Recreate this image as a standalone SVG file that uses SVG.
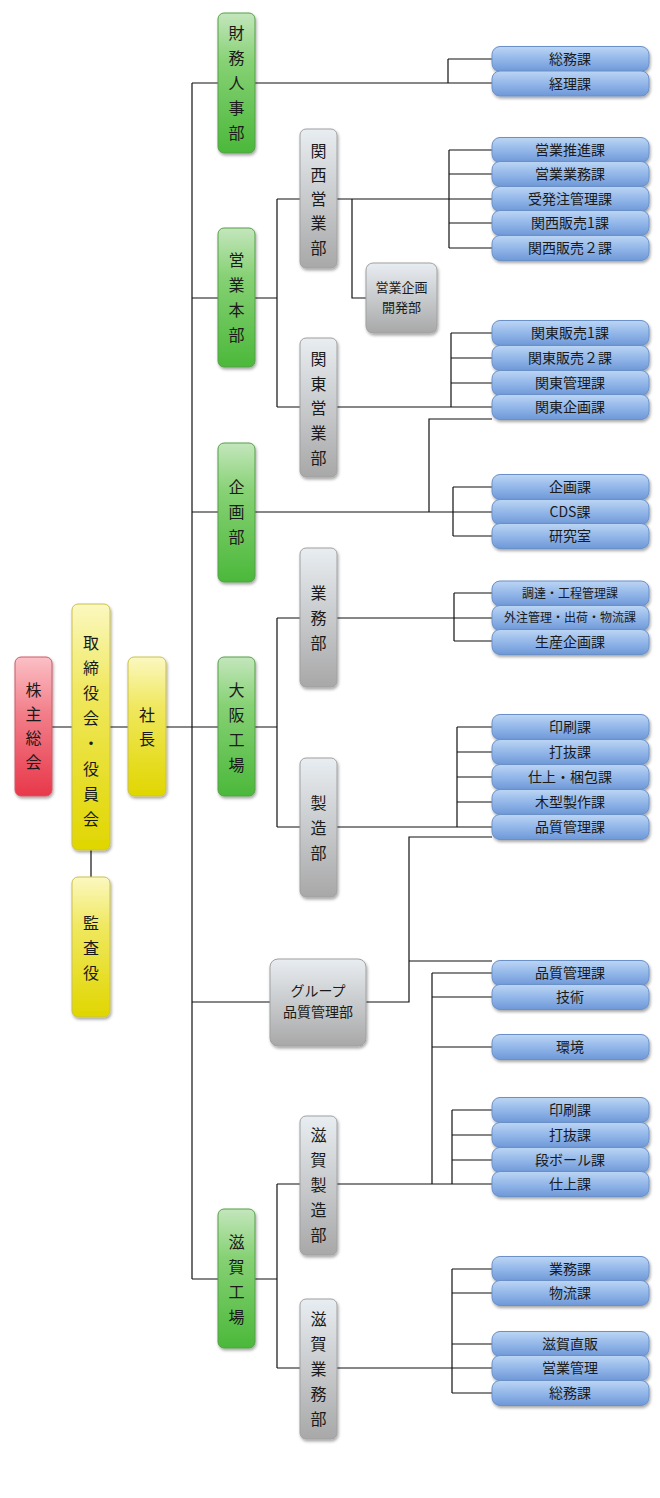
<svg xmlns="http://www.w3.org/2000/svg" width="660" height="1498" viewBox="0 0 660 1498">
<defs>
<linearGradient id="gGreen" x1="0" y1="0" x2="0" y2="1"><stop offset="0" stop-color="#c4e6bd"/><stop offset="0.35" stop-color="#86d174"/><stop offset="1" stop-color="#4bb83a"/></linearGradient>
<linearGradient id="gGray" x1="0" y1="0" x2="0" y2="1"><stop offset="0" stop-color="#e8edf1"/><stop offset="1" stop-color="#a8a8a8"/></linearGradient>
<linearGradient id="gYellow" x1="0" y1="0" x2="0" y2="1"><stop offset="0" stop-color="#fbf8c0"/><stop offset="0.35" stop-color="#f0e860"/><stop offset="1" stop-color="#e0d600"/></linearGradient>
<linearGradient id="gRed" x1="0" y1="0" x2="0" y2="1"><stop offset="0" stop-color="#fbc0c6"/><stop offset="0.4" stop-color="#f27f8a"/><stop offset="1" stop-color="#e8384a"/></linearGradient>
<linearGradient id="gBlue" x1="0" y1="0" x2="0" y2="1"><stop offset="0" stop-color="#bcd5f4"/><stop offset="0.5" stop-color="#93b7e9"/><stop offset="1" stop-color="#6e98d7"/></linearGradient>
<filter id="sh" x="-20%" y="-20%" width="140%" height="140%"><feDropShadow dx="1" dy="2" stdDeviation="1.5" flood-color="#000" flood-opacity="0.35"/></filter>
<style>
.green{fill:url(#gGreen);stroke:#55a048;stroke-width:1;filter:url(#sh)}
.gray{fill:url(#gGray);stroke:#a0a0a0;stroke-width:1;filter:url(#sh)}
.yellow{fill:url(#gYellow);stroke:#c9c050;stroke-width:1;filter:url(#sh)}
.red{fill:url(#gRed);stroke:#cc5a66;stroke-width:1;filter:url(#sh)}
.blue{fill:url(#gBlue);stroke:#6a90c8;stroke-width:1;filter:url(#sh)}
text{font-family:"Noto Sans CJK JP","Noto Sans CJK SC",sans-serif;fill:#1a1a1a;text-anchor:middle}
.v{font-size:16px}
.b{font-size:14px}
.s{font-size:12px}
.conn path{fill:none;stroke:#111;stroke-width:1.2}
</style>
</defs>
<rect width="660" height="1498" fill="#fff"/>

<g class="conn">
<path d="M52,727H72M110,727H218M91,850V877"/>
<path d="M192,83V1279M192,83H218M192,298H218M192,512H218M192,1002H270M192,1279H218"/>
<path d="M255,83H492M448,59V83M448,59H492"/>
<path d="M255,298H277M277,199V407M277,199H300M277,407H300"/>
<path d="M337,199H492M352,199V298H366M449,150V248M449,150H492M449,174H492M449,223H492M449,248H492"/>
<path d="M337,407H492M451,333V407M451,333H492M451,358H492M451,383H492"/>
<path d="M255,512H492M429,512V419H492M453,487V536M453,487H492M453,536H492"/>
<path d="M255,727H277M277,618V827M277,618H300M277,827H300"/>
<path d="M337,618H492M454,593V641M454,593H492M454,641H492"/>
<path d="M337,827H492M457,727V827M457,727H492M457,752H492M457,777H492M457,802H492"/>
<path d="M366,1002H409V837H492M409,961H492"/>
<path d="M432,973V1184M432,973H492M432,997H492M432,1047H492"/>
<path d="M255,1279H277M277,1184V1368M277,1184H300M277,1368H300"/>
<path d="M337,1184H492M452,1110V1184M452,1110H492M452,1135H492M452,1160H492"/>
<path d="M337,1368H492M452,1269V1393M452,1269H492M452,1293H492M452,1344H492M452,1393H492"/>
</g>

<g id="kabunushi"><rect class="red" x="15" y="657" width="37" height="139" rx="6"/>
<text class="v" x="33.5"><tspan x="33.5" y="696">株</tspan><tspan x="33.5" y="720">主</tspan><tspan x="33.5" y="744">総</tspan><tspan x="33.5" y="768">会</tspan></text></g>
<g id="torishimariyaku"><rect class="yellow" x="72" y="604" width="38" height="246" rx="6"/>
<text class="v"><tspan x="91" y="649">取</tspan><tspan x="91" y="674">締</tspan><tspan x="91" y="699">役</tspan><tspan x="91" y="724">会</tspan><tspan x="91" y="749">・</tspan><tspan x="91" y="775">役</tspan><tspan x="91" y="800">員</tspan><tspan x="91" y="825">会</tspan></text></g>
<g id="shacho"><rect class="yellow" x="128" y="657" width="38" height="139" rx="6"/>
<text class="v"><tspan x="147" y="721">社</tspan><tspan x="147" y="745">長</tspan></text></g>
<g id="kansayaku"><rect class="yellow" x="72" y="877" width="38" height="140" rx="6"/>
<text class="v"><tspan x="91" y="929">監</tspan><tspan x="91" y="954">査</tspan><tspan x="91" y="979">役</tspan></text></g>

<g id="zaimu"><rect class="green" x="218" y="13" width="37" height="140" rx="6"/>
<text class="v"><tspan x="236.5" y="39">財</tspan><tspan x="236.5" y="64">務</tspan><tspan x="236.5" y="89">人</tspan><tspan x="236.5" y="114">事</tspan><tspan x="236.5" y="139">部</tspan></text></g>
<g id="eigyohonbu"><rect class="green" x="218" y="228" width="37" height="139" rx="6"/>
<text class="v"><tspan x="236.5" y="266">営</tspan><tspan x="236.5" y="291">業</tspan><tspan x="236.5" y="316">本</tspan><tspan x="236.5" y="341">部</tspan></text></g>
<g id="kikakubu"><rect class="green" x="218" y="443" width="37" height="139" rx="6"/>
<text class="v"><tspan x="236.5" y="493">企</tspan><tspan x="236.5" y="518">画</tspan><tspan x="236.5" y="543">部</tspan></text></g>
<g id="osaka"><rect class="green" x="218" y="657" width="37" height="139" rx="6"/>
<text class="v"><tspan x="236.5" y="696">大</tspan><tspan x="236.5" y="721">阪</tspan><tspan x="236.5" y="746">工</tspan><tspan x="236.5" y="771">場</tspan></text></g>
<g id="shiga"><rect class="green" x="218" y="1209" width="37" height="139" rx="6"/>
<text class="v"><tspan x="236.5" y="1248">滋</tspan><tspan x="236.5" y="1273">賀</tspan><tspan x="236.5" y="1298">工</tspan><tspan x="236.5" y="1323">場</tspan></text></g>

<g id="kansai"><rect class="gray" x="300" y="129" width="37" height="139" rx="6"/>
<text class="v"><tspan x="318.5" y="157">関</tspan><tspan x="318.5" y="181">西</tspan><tspan x="318.5" y="205">営</tspan><tspan x="318.5" y="229">業</tspan><tspan x="318.5" y="254">部</tspan></text></g>
<g id="kikakukaihatsu"><rect class="gray" x="366" y="263" width="71" height="70" rx="7"/>
<text class="s" x="401.5" y="292" style="font-size:13px">営業企画</text><text class="s" x="401.5" y="312" style="font-size:13px">開発部</text></g>
<g id="kanto"><rect class="gray" x="300" y="338" width="37" height="139" rx="6"/>
<text class="v"><tspan x="318.5" y="365">関</tspan><tspan x="318.5" y="390">東</tspan><tspan x="318.5" y="414">営</tspan><tspan x="318.5" y="439">業</tspan><tspan x="318.5" y="464">部</tspan></text></g>
<g id="gyomubu"><rect class="gray" x="300" y="548" width="37" height="139" rx="6"/>
<text class="v"><tspan x="318.5" y="599">業</tspan><tspan x="318.5" y="624">務</tspan><tspan x="318.5" y="649">部</tspan></text></g>
<g id="seizobu"><rect class="gray" x="300" y="758" width="37" height="139" rx="6"/>
<text class="v"><tspan x="318.5" y="809">製</tspan><tspan x="318.5" y="834">造</tspan><tspan x="318.5" y="859">部</tspan></text></g>
<g id="group"><rect class="gray" x="270" y="959" width="96" height="87" rx="8"/>
<text class="b" x="318" y="996" style="font-size:14px">グループ</text><text class="b" x="318" y="1017" style="font-size:14px">品質管理部</text></g>
<g id="shigaseizo"><rect class="gray" x="300" y="1116" width="37" height="139" rx="6"/>
<text class="v"><tspan x="318.5" y="1141">滋</tspan><tspan x="318.5" y="1166">賀</tspan><tspan x="318.5" y="1191">製</tspan><tspan x="318.5" y="1216">造</tspan><tspan x="318.5" y="1241">部</tspan></text></g>
<g id="shigagyomu"><rect class="gray" x="300" y="1299" width="37" height="140" rx="6"/>
<text class="v"><tspan x="318.5" y="1325">滋</tspan><tspan x="318.5" y="1350">賀</tspan><tspan x="318.5" y="1375">業</tspan><tspan x="318.5" y="1400">務</tspan><tspan x="318.5" y="1425">部</tspan></text></g>

<g id="b-somu"><rect class="blue" x="492" y="46.5" width="157" height="25" rx="8"/><text class="b" x="570" y="64">総務課</text></g>
<g id="b-keiri"><rect class="blue" x="492" y="71" width="157" height="25" rx="8"/><text class="b" x="570" y="88.5">経理課</text></g>

<g id="b-suishin"><rect class="blue" x="492" y="137.5" width="157" height="25" rx="8"/><text class="b" x="570" y="155">営業推進課</text></g>
<g id="b-eigyogyomu"><rect class="blue" x="492" y="161.5" width="157" height="25" rx="8"/><text class="b" x="570" y="179">営業業務課</text></g>
<g id="b-juhatchu"><rect class="blue" x="492" y="186.5" width="157" height="25" rx="8"/><text class="b" x="570" y="204">受発注管理課</text></g>
<g id="b-kansai1"><rect class="blue" x="492" y="210.5" width="157" height="25" rx="8"/><text class="b" x="570" y="228">関西販売1課</text></g>
<g id="b-kansai2"><rect class="blue" x="492" y="235.5" width="157" height="25" rx="8"/><text class="b" x="570" y="253">関西販売２課</text></g>

<g id="b-kanto1"><rect class="blue" x="492" y="320.5" width="157" height="25" rx="8"/><text class="b" x="570" y="338">関東販売1課</text></g>
<g id="b-kanto2"><rect class="blue" x="492" y="345.5" width="157" height="25" rx="8"/><text class="b" x="570" y="363">関東販売２課</text></g>
<g id="b-kantokanri"><rect class="blue" x="492" y="370.5" width="157" height="25" rx="8"/><text class="b" x="570" y="388">関東管理課</text></g>
<g id="b-kantokikaku"><rect class="blue" x="492" y="394.5" width="157" height="25" rx="8"/><text class="b" x="570" y="412">関東企画課</text></g>

<g id="b-kikaku"><rect class="blue" x="492" y="474.5" width="157" height="25" rx="8"/><text class="b" x="570" y="492">企画課</text></g>
<g id="b-cds"><rect class="blue" x="492" y="499.5" width="157" height="25" rx="8"/><text class="b" x="570" y="517">CDS課</text></g>
<g id="b-kenkyu"><rect class="blue" x="492" y="523.5" width="157" height="25" rx="8"/><text class="b" x="570" y="541">研究室</text></g>

<g id="b-chotatsu"><rect class="blue" x="492" y="581" width="157" height="25" rx="8"/><text class="s" x="570" y="597.5">調達・工程管理課</text></g>
<g id="b-gaichu"><rect class="blue" x="492" y="605.5" width="157" height="25" rx="8"/><text class="s" x="570" y="622">外注管理・出荷・物流課</text></g>
<g id="b-seisan"><rect class="blue" x="492" y="629.5" width="157" height="25" rx="8"/><text class="b" x="570" y="647">生産企画課</text></g>

<g id="b-insatsu"><rect class="blue" x="492" y="714.5" width="157" height="25" rx="8"/><text class="b" x="570" y="732">印刷課</text></g>
<g id="b-uchinuki"><rect class="blue" x="492" y="739.5" width="157" height="25" rx="8"/><text class="b" x="570" y="757">打抜課</text></g>
<g id="b-shiage"><rect class="blue" x="492" y="764.5" width="157" height="25" rx="8"/><text class="b" x="570" y="782">仕上・梱包課</text></g>
<g id="b-kigata"><rect class="blue" x="492" y="789.5" width="157" height="25" rx="8"/><text class="b" x="570" y="807">木型製作課</text></g>
<g id="b-hinshitsu1"><rect class="blue" x="492" y="814.5" width="157" height="25" rx="8"/><text class="b" x="570" y="832">品質管理課</text></g>

<g id="b-hinshitsu2"><rect class="blue" x="492" y="960.5" width="157" height="25" rx="8"/><text class="b" x="570" y="978">品質管理課</text></g>
<g id="b-gijutsu"><rect class="blue" x="492" y="984.5" width="157" height="25" rx="8"/><text class="b" x="570" y="1002">技術</text></g>
<g id="b-kankyo"><rect class="blue" x="492" y="1034.5" width="157" height="25" rx="8"/><text class="b" x="570" y="1052">環境</text></g>

<g id="b-insatsu2"><rect class="blue" x="492" y="1097.5" width="157" height="25" rx="8"/><text class="b" x="570" y="1115">印刷課</text></g>
<g id="b-uchinuki2"><rect class="blue" x="492" y="1122.5" width="157" height="25" rx="8"/><text class="b" x="570" y="1140">打抜課</text></g>
<g id="b-danboru"><rect class="blue" x="492" y="1147.5" width="157" height="25" rx="8"/><text class="b" x="570" y="1165">段ボール課</text></g>
<g id="b-shiage2"><rect class="blue" x="492" y="1171.5" width="157" height="25" rx="8"/><text class="b" x="570" y="1189">仕上課</text></g>

<g id="b-gyomuka"><rect class="blue" x="492" y="1256.5" width="157" height="25" rx="8"/><text class="b" x="570" y="1274">業務課</text></g>
<g id="b-butsuryu"><rect class="blue" x="492" y="1280.5" width="157" height="25" rx="8"/><text class="b" x="570" y="1298">物流課</text></g>
<g id="b-chokuhan"><rect class="blue" x="492" y="1331.5" width="157" height="25" rx="8"/><text class="b" x="570" y="1349">滋賀直販</text></g>
<g id="b-eigyokanri"><rect class="blue" x="492" y="1355.5" width="157" height="25" rx="8"/><text class="b" x="570" y="1373">営業管理</text></g>
<g id="b-somu2"><rect class="blue" x="492" y="1380.5" width="157" height="25" rx="8"/><text class="b" x="570" y="1398">総務課</text></g>
</svg>
